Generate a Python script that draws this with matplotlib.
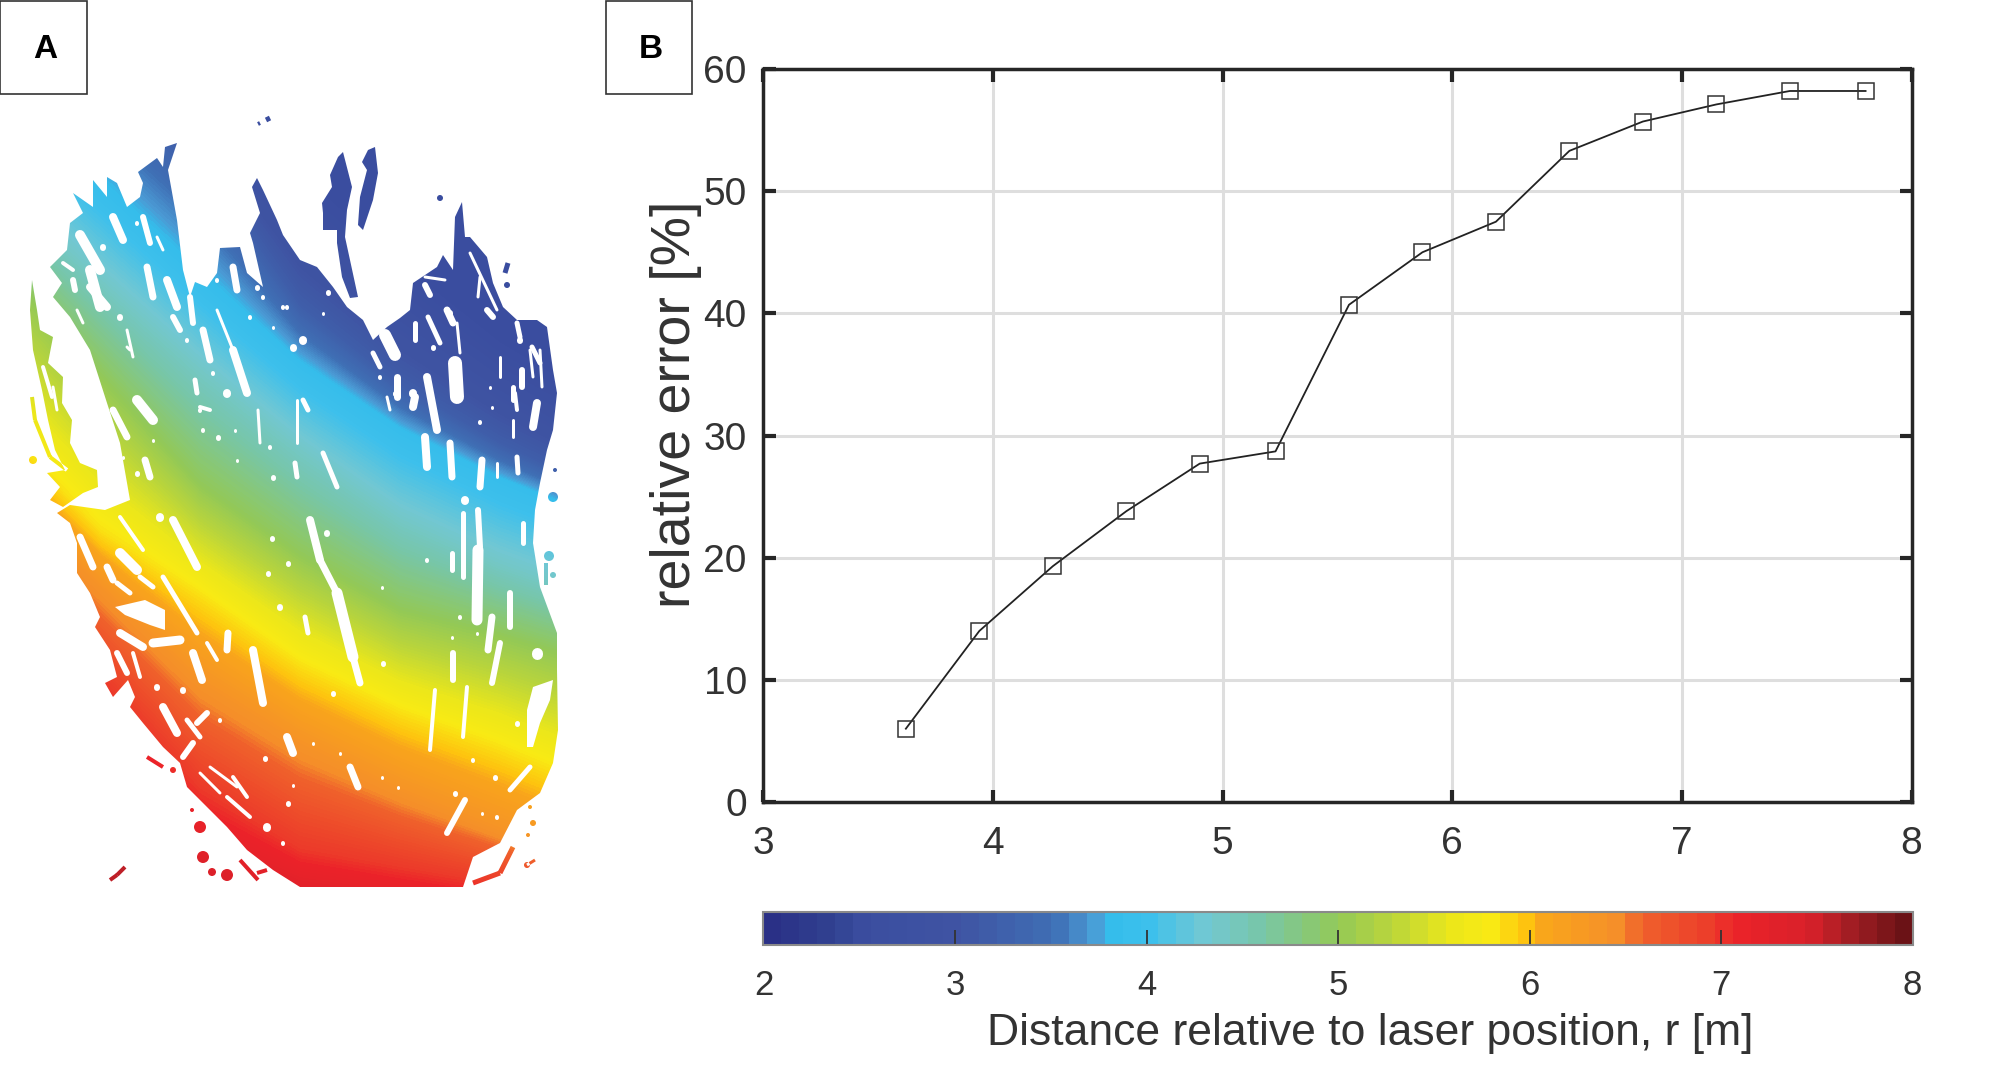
import matplotlib
matplotlib.use('Agg')
import matplotlib.pyplot as plt
import numpy as np
from matplotlib.colors import LinearSegmentedColormap, Normalize
from matplotlib.cm import ScalarMappable
from matplotlib.path import Path
from matplotlib.patches import PathPatch, Rectangle

plt.rcParams['font.family'] = ['Liberation Sans', 'DejaVu Sans']

W, H = 2008, 1083

# panel B data
distance = [3.62, 3.94, 4.26, 4.58, 4.90, 5.23, 5.55, 5.87, 6.19, 6.51, 6.83, 7.15, 7.47, 7.80]
rel_error = [6.0, 14.0, 19.3, 23.8, 27.7, 28.7, 40.7, 45.0, 47.5, 53.3, 55.7, 57.1, 58.2, 58.2]
x_ticks = [3, 4, 5, 6, 7, 8]
y_ticks = [0, 10, 20, 30, 40, 50, 60]
cbar_ticks = [2, 3, 4, 5, 6, 7, 8]

# colorbar
cmap_r = [2.0, 2.3, 2.5, 3.0, 3.5, 3.7, 3.8, 4.0, 4.3, 4.6, 5.0, 5.3, 5.6, 5.8, 6.0, 6.1, 6.5, 6.6, 7.0, 7.1, 7.5, 7.7, 8.0]
cmap_c = ['#2a3086', '#30408f', '#3b4ea0', '#3f54a3', '#3f6fb5', '#4b9bd5', '#35bdeb', '#3dc0ec',
          '#72c8d3', '#78c6a8', '#93c957', '#bcd63a', '#ece71a', '#f9eb14', '#fec30f', '#f9a51c',
          '#f58e2a', '#f0622c', '#ec3a2a', '#ec2329', '#d8202a', '#a51e24', '#6b1216']

# panel A: height in the picture where each distance level is seen, per column (pixels)
iso_x = [0, 100, 200, 300, 400, 500, 600]
iso_levels = [2.5, 3.2, 3.85, 4.4, 5.0, 5.85, 6.4, 7.0, 7.6]
iso_y = [[-150, -40, 60, 170, 260, 340, 400],
         [-30, 70, 160, 305, 385, 443, 490],
         [90, 185, 278, 365, 431, 480, 520],
         [190, 280, 370, 450, 520, 565, 600],
         [265, 375, 485, 555, 610, 635, 665],
         [425, 530, 595, 665, 712, 748, 790],
         [490, 585, 680, 742, 790, 830, 870],
         [600, 680, 790, 850, 868, 885, 910],
         [700, 840, 910, 930, 940, 950, 960]]

# panel A: traced cloud outlines (pixels)
body = [(177, 143), (168, 170), (177, 220), (183, 270), (190, 297), (195, 282), (207, 287), (217, 273),
        (220, 248), (240, 247), (247, 273), (263, 287), (253, 243), (250, 233), (260, 213), (252, 187),
        (257, 178), (263, 190), (277, 220), (283, 235), (300, 260), (317, 267), (333, 287), (347, 307),
        (363, 320), (373, 340), (387, 327), (400, 318), (410, 310), (413, 283), (437, 267), (443, 255),
        (453, 270), (455, 217), (462, 202), (465, 237), (470, 237), (487, 257), (493, 283), (503, 307),
        (517, 320), (537, 320), (547, 327), (553, 370), (557, 393), (553, 430), (547, 450), (540, 483),
        (535, 510), (533, 543), (540, 587), (557, 633), (557, 670), (558, 730), (553, 763), (540, 793),
        (517, 810), (500, 843), (473, 857), (463, 887), (300, 887), (273, 870), (247, 850), (227, 827),
        (207, 807), (187, 787), (180, 763), (163, 747), (143, 723), (130, 707), (135, 697), (128, 680),
        (113, 697), (105, 683), (117, 677), (110, 650), (95, 627), (100, 617), (90, 593), (77, 573),
        (77, 543), (70, 523), (57, 513), (70, 505), (105, 510), (130, 500), (120, 443), (107, 403),
        (90, 350), (70, 317), (53, 297), (62, 283), (50, 267), (67, 250), (70, 223), (83, 213),
        (73, 193), (93, 207), (93, 180), (107, 197), (107, 177), (117, 183), (127, 207), (140, 197),
        (143, 183), (138, 172), (157, 158), (163, 167), (165, 147)]
left_strand = [(32, 280), (37, 310), (40, 330), (53, 337), (48, 363), (63, 377), (62, 403), (72, 420),
               (70, 443), (80, 463), (97, 470), (98, 487), (83, 493), (63, 507), (50, 500), (60, 487),
               (47, 473), (65, 470), (55, 450), (48, 420), (42, 390), (33, 350), (30, 310)]
top_strand_1 = [(350, 145), (343, 152), (352, 187), (347, 210), (345, 237), (350, 260), (358, 297),
                (350, 298), (342, 277), (337, 243), (337, 230), (323, 230), (323, 213), (322, 203),
                (332, 187), (330, 175), (338, 157)]
top_strand_2 = [(375, 147), (378, 173), (373, 200), (363, 230), (358, 225), (360, 197), (367, 170),
                (362, 162), (368, 150)]
outlines = [body, left_strand, top_strand_1, top_strand_2]

# thin stray bits of the cloud: x1, y1, x2, y2, width
stray_bits = [(32, 397, 35, 420, 4), (35, 420, 50, 457, 4), (50, 457, 67, 470, 4),
              (258, 124, 260, 123, 4), (266, 120, 270, 118, 5), (508, 263, 505, 273, 5),
              (117, 875, 125, 867, 4), (110, 880, 117, 875, 4), (147, 757, 163, 767, 4),
              (257, 873, 267, 870, 4), (513, 847, 500, 873, 5), (500, 873, 473, 883, 5),
              (535, 860, 527, 865, 3), (240, 860, 258, 880, 4), (546, 563, 546, 585, 4)]
# dots of the cloud: x, y, radius
stray_dots = [(440, 198, 3), (507, 285, 3), (553, 497, 5), (549, 556, 5), (553, 575, 3), (33, 460, 4),
              (173, 770, 3), (192, 810, 2), (200, 827, 6), (203, 857, 6), (212, 872, 4), (227, 875, 6),
              (533, 823, 3), (528, 835, 2), (530, 807, 2), (527, 865, 3), (555, 470, 2)]

# gaps in the cloud: x1, y1, x2, y2, width
gaps = [(113, 217, 123, 240, 8), (143, 217, 150, 243, 6), (80, 235, 100, 270, 10), (90, 270, 100, 307, 10),
        (147, 267, 153, 297, 7), (167, 280, 177, 307, 8), (173, 317, 180, 330, 6), (203, 330, 210, 360, 7),
        (217, 310, 233, 350, 3), (233, 350, 247, 393, 8), (120, 317, 120, 318, 6), (195, 380, 197, 393, 5),
        (227, 393, 227, 394, 8), (137, 400, 153, 420, 10), (113, 410, 127, 437, 7), (145, 460, 150, 477, 7),
        (127, 347, 130, 350, 3), (200, 410, 200, 411, 4), (293, 347, 293, 348, 7), (297, 400, 297, 443, 3),
        (295, 463, 297, 477, 5), (258, 410, 260, 443, 3), (287, 307, 287, 308, 4),
        (303, 340, 303, 341, 8), (323, 313, 323, 314, 3), (328, 292, 328, 293, 5), (373, 353, 380, 367, 5),
        (385, 335, 395, 355, 12), (397, 377, 397, 397, 7), (413, 393, 413, 394, 8), (427, 377, 437, 430, 8),
        (455, 363, 457, 397, 14), (425, 285, 430, 295, 6), (450, 313, 450, 314, 6), (433, 347, 433, 348, 5),
        (500, 357, 500, 377, 3), (522, 370, 522, 387, 6), (520, 340, 520, 341, 6), (532, 347, 540, 363, 5),
        (537, 403, 533, 427, 8), (515, 393, 517, 410, 4), (425, 437, 427, 467, 8), (450, 443, 452, 477, 7),
        (482, 460, 480, 487, 7), (497, 463, 497, 477, 3), (517, 457, 518, 473, 5), (465, 500, 465, 501, 8),
        (323, 453, 337, 487, 5), (303, 400, 308, 410, 5),
        (310, 520, 320, 560, 8), (320, 560, 337, 593, 7), (337, 593, 353, 657, 11), (353, 657, 360, 683, 7),
        (327, 533, 327, 534, 6), (305, 617, 308, 633, 5), (427, 560, 427, 561, 4), (452, 553, 452, 570, 5),
        (463, 513, 463, 577, 5), (478, 510, 480, 547, 6), (478, 550, 477, 620, 11), (510, 593, 510, 627, 6),
        (523, 523, 523, 543, 5), (492, 617, 488, 650, 7), (500, 643, 492, 683, 6), (453, 653, 453, 680, 6),
        (460, 617, 460, 618, 4), (452, 637, 452, 638, 3), (477, 633, 477, 634, 3), (382, 587, 382, 588, 3),
        (383, 663, 383, 664, 5), (333, 693, 333, 694, 5), (435, 690, 430, 750, 4), (467, 687, 463, 737, 4),
        (537, 653, 537, 654, 11), (517, 723, 517, 724, 5), (510, 790, 530, 767, 5), (473, 760, 473, 761, 4),
        (495, 777, 495, 778, 5), (350, 767, 358, 787, 7), (340, 753, 340, 754, 3), (382, 777, 382, 778, 3),
        (398, 787, 398, 788, 3), (465, 800, 447, 833, 6), (455, 793, 455, 794, 5), (482, 813, 482, 814, 3),
        (497, 817, 497, 818, 4), (313, 743, 313, 744, 3),
        (173, 520, 197, 567, 8), (160, 517, 160, 518, 8), (120, 517, 143, 550, 4), (80, 537, 93, 567, 7),
        (107, 567, 113, 580, 7), (120, 553, 137, 570, 10), (140, 577, 153, 587, 5), (163, 577, 197, 633, 5),
        (117, 583, 130, 593, 5), (153, 643, 180, 640, 9), (120, 633, 143, 647, 8), (117, 653, 127, 673, 6),
        (133, 653, 140, 677, 4), (193, 653, 202, 680, 8), (228, 633, 227, 650, 7), (207, 643, 217, 660, 4),
        (253, 650, 263, 703, 8), (163, 707, 177, 733, 8), (157, 687, 157, 688, 6), (187, 720, 200, 737, 5),
        (183, 757, 193, 743, 6), (183, 690, 183, 691, 6), (207, 713, 197, 723, 6), (200, 773, 220, 793, 3),
        (210, 767, 237, 787, 3), (233, 777, 247, 797, 4), (227, 797, 250, 817, 4), (287, 737, 293, 753, 8),
        (267, 827, 267, 828, 8), (288, 803, 288, 804, 5), (265, 758, 265, 759, 5), (280, 607, 280, 608, 6),
        (288, 563, 288, 564, 5), (272, 538, 272, 539, 5), (268, 573, 268, 574, 5), (283, 843, 283, 844, 4),
        (220, 720, 220, 721, 4), (293, 785, 293, 786, 3),
        # upper right strands
        (415, 323, 415, 340, 5), (428, 317, 440, 343, 5), (447, 310, 453, 323, 7), (457, 323, 460, 353, 3),
        (480, 277, 478, 297, 3), (487, 310, 493, 317, 6), (517, 323, 520, 337, 5), (530, 350, 533, 377, 3),
        (540, 350, 542, 387, 3), (513, 387, 513, 400, 5), (513, 420, 513, 437, 3), (490, 387, 490, 388, 3),
        (492, 407, 492, 408, 3), (480, 422, 480, 423, 4), (387, 397, 390, 410, 3), (380, 377, 380, 378, 4),
        (395, 393, 395, 394, 5), (415, 397, 413, 407, 8), (470, 253, 497, 310, 3), (425, 277, 445, 280, 3),
        # upper left strands
        (63, 263, 73, 270, 4), (73, 280, 75, 290, 6), (90, 287, 107, 307, 8), (137, 223, 137, 224, 4),
        (157, 237, 163, 250, 3), (77, 310, 83, 323, 3), (127, 330, 133, 357, 3), (103, 247, 103, 248, 6),
        (187, 340, 187, 341, 4), (263, 297, 263, 298, 4), (283, 307, 283, 308, 4), (250, 317, 250, 318, 4),
        (273, 327, 273, 328, 3), (257, 287, 257, 288, 5), (190, 297, 193, 323, 6), (217, 280, 217, 281, 4),
        (233, 267, 237, 290, 7), (213, 373, 213, 374, 4), (200, 407, 210, 410, 4), (203, 430, 203, 431, 4),
        (218, 437, 218, 438, 5), (235, 430, 235, 431, 3), (270, 447, 270, 448, 4), (273, 477, 273, 478, 5),
        (237, 460, 237, 461, 3), (137, 473, 137, 474, 5), (123, 457, 123, 458, 3), (153, 440, 153, 441, 3),
        (43, 367, 52, 397, 4), (53, 387, 57, 410, 3)]
gap_shapes = [[(533, 687), (553, 680), (550, 700), (540, 723), (533, 747), (527, 747), (527, 710)],
              [(115, 607), (145, 600), (165, 610), (165, 630), (150, 625), (125, 615)]]


def stroke_path(x1, y1, x2, y2, w):
    d = np.array([x2 - x1, y2 - y1], dtype=float)
    n = np.array([-d[1], d[0]]) / np.hypot(*d) * w / 2
    a, b = np.array([x1, y1]), np.array([x2, y2])
    return Path([a + n, b + n, b - n, a - n, a + n], closed=True)


fig = plt.figure(figsize=(W / 100, H / 100), dpi=100)
cmap = LinearSegmentedColormap.from_list(
    'dist', [((r - 2) / 6, c) for r, c in zip(cmap_r, cmap_c)], N=64)
norm = Normalize(2, 8)


def px_axes(x0, y0, x1, y1):
    return fig.add_axes([x0 / W, 1 - y1 / H, (x1 - x0) / W, (y1 - y0) / H])


# panel A
ax_a = px_axes(0, 0, 600, H)
ax_a.set_xlim(0, 600)
ax_a.set_ylim(H, 0)
ax_a.axis('off')

cols = np.arange(600) + 0.5
rows = np.arange(H) + 0.5
iso_y = np.array(iso_y, dtype=float)
field = np.empty((H, 600))
for i, cx in enumerate(cols):
    ys = [np.interp(cx, iso_x, line) for line in iso_y]
    field[:, i] = np.interp(rows, ys, iso_levels)

cloud = [Path(pts + [pts[0]], closed=True) for pts in outlines]
cloud += [stroke_path(*b) for b in stray_bits]
cloud += [Path.circle((x, y), rad) for x, y, rad in stray_dots]
clip = PathPatch(Path.make_compound_path(*cloud), transform=ax_a.transData, fc='none', ec='none')
ax_a.add_patch(clip)
im = ax_a.imshow(field, cmap=LinearSegmentedColormap.from_list(
    'smooth', [((r - 2) / 6, c) for r, c in zip(cmap_r, cmap_c)], N=256), norm=norm,
    extent=(0, 600, H, 0), aspect='auto', interpolation='bilinear')
im.set_clip_path(clip)

for x1, y1, x2, y2, w in gaps:
    ax_a.plot([x1, x2], [y1, y2], color='white', lw=w * 0.72, solid_capstyle='round')
for pts in gap_shapes:
    ax_a.fill(*zip(*pts), color='white', lw=0)
ax_a.set_xlim(0, 600)
ax_a.set_ylim(H, 0)

# panel B
ax = px_axes(763.5, 69, 1911.5, 802)
ax.plot(distance, rel_error, color='#222222', lw=1.3, marker='s', ms=11.5, mfc='none', mec='#333333', mew=1.1, zorder=3)
ax.set_xlim(3, 8)
ax.set_ylim(0, 60)
ax.set_xticks(x_ticks)
ax.set_yticks(y_ticks)
ax.grid(True, color='#dedede', lw=2.2)
ax.set_axisbelow(True)
ax.tick_params(direction='in', length=9, width=3, color='#262626', top=True, right=True,
               labelsize=28, labelcolor='#333333', pad=12)
ax.tick_params(axis='x', pad=17)
for s in ax.spines.values():
    s.set_linewidth(2.5)
    s.set_color('#262626')
ax.set_ylabel('relative error [%]', fontsize=40, color='#333333')
ax.yaxis.set_label_coords((702 - 763.5) / 1148, (802 - 404) / 733)

# colorbar
cax = px_axes(763.5, 912, 1912.5, 945)
cb = fig.colorbar(ScalarMappable(norm=norm, cmap=cmap), cax=cax, orientation='horizontal')
cb.set_ticks(cbar_ticks)
cb.ax.tick_params(direction='in', length=11, width=1.3, color='#333333', labelsize=25,
                  labelcolor='#333333', pad=17)
cb.outline.set_edgecolor('#8a8a8a')
cb.outline.set_linewidth(1.5)
cb.set_label('Distance relative to laser position, r [m]', fontsize=32, color='#333333', labelpad=5)
cb.ax.xaxis.set_label_coords((1370 - 763.5) / 1149, -2.05)

# panel letters
for x0, x1, letter in [(0, 87, 'A'), (606, 692, 'B')]:
    fig.add_artist(Rectangle((x0 / W, 1 - 94 / H), (x1 - x0) / W, 93.5 / H, transform=fig.transFigure,
                             fill=False, ec='#333333', lw=1.2))
    fig.text((x0 + x1) / 2 / W + 0.001, 1 - 49 / H, letter, fontsize=24, fontweight='bold',
             ha='center', va='center', color='black')

fig.savefig('out.png', dpi=100)
